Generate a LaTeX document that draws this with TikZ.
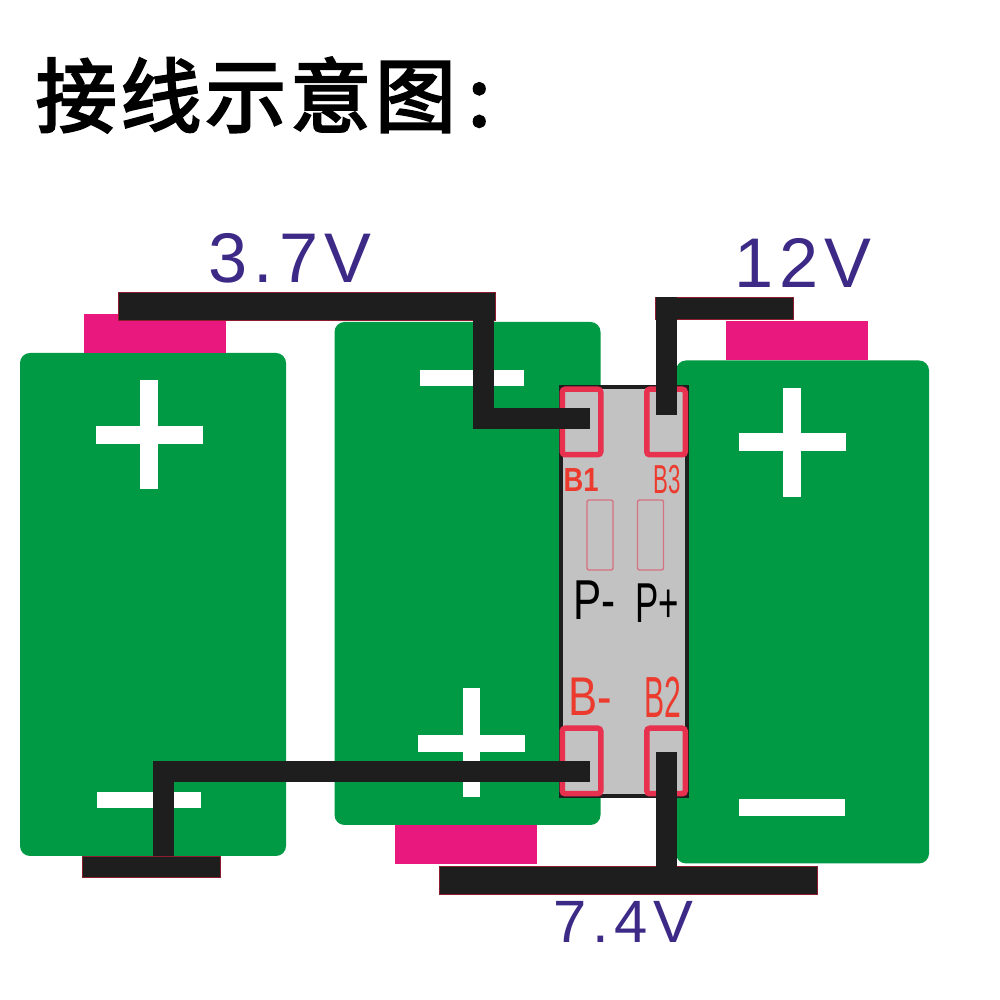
\documentclass[tikz,border=0pt]{standalone}
\usepackage{fontspec}
\setmainfont{Liberation Sans}
\newfontfamily\cjk[FakeBold=3,LetterSpace=5]{Noto Sans CJK SC}
\usetikzlibrary{positioning}

\definecolor{cellgreen}{HTML}{009A44}
\definecolor{cappink}{HTML}{E8187F}
\definecolor{boardgrey}{HTML}{C2C2C2}
\definecolor{padred}{HTML}{E8304F}
\definecolor{labelred}{HTML}{EC3B2E}
\definecolor{voltblue}{HTML}{3C2A86}
\definecolor{wireblack}{HTML}{1E1E1E}

\tikzset{
  cell/.style={shape=rectangle, rounded corners=0.1cm, fill=cellgreen, minimum width=2.66cm, minimum height=5.03cm, inner sep=0pt},
  capend/.style={shape=rectangle, fill=cappink, minimum width=1.42cm, minimum height=0.39cm, inner sep=0pt},
  bus/.style={shape=rectangle, fill=wireblack, draw=padred!60!black, line width=0.2pt, inner sep=0pt},
  pad/.style={shape=rectangle, rounded corners=0.03cm, draw=padred, line width=0.055cm, minimum width=0.385cm, minimum height=0.655cm, inner sep=0pt},
  slot/.style={shape=rectangle, rounded corners=0.02cm, draw=padred!55!boardgrey, line width=0.4pt, minimum width=0.26cm, minimum height=0.7cm, inner sep=0pt},
  wire/.style={draw=wireblack, line width=0.21cm, line join=miter},
  signh/.style={shape=rectangle, fill=white, minimum width=1.07cm, minimum height=0.175cm, inner sep=0pt},
  signv/.style={shape=rectangle, fill=white, minimum width=0.175cm, minimum height=1.09cm, inner sep=0pt},
  volt/.style={text=voltblue, inner sep=0pt, font=\fontsize{20}{24}\selectfont\addfontfeature{LetterSpace=9}},
  padlabel/.style={text=labelred, inner sep=0pt, transform shape, font=\fontsize{13}{15}\selectfont},
  pinlabel/.style={text=black, inner sep=0pt, transform shape, font=\fontsize{14}{16}\selectfont}
}

\begin{document}
\begin{tikzpicture}
  \useasboundingbox[fill=white] (0,0) rectangle (10,10);

  % title
  \node[anchor=west, inner sep=0pt] (title) at (0.35,9.05) {\fontsize{23}{28}\selectfont\cjk 接线示意图\hspace{0.12cm}:};

  % cells
  \node[cell] (cellleft) at (1.53,3.955) {};
  \node[cell] (cellmid) at (4.675,4.265) {};
  \node[cell, minimum width=2.53cm] (cellright) at (8.025,3.88) {};
  \node[capend] (capleft) at (1.545,6.665) {};
  \node[capend] (capmid) at (4.66,1.555) {};
  \node[capend] (capright) at (7.97,6.595) {};

  % signs
  \node[signh] (plusleftb) at (1.49,5.65) {};
  \node[signv] (plusleftc) at (1.49,5.65) {};
  \node[signh, minimum width=1.04cm, minimum height=0.16cm] (minusleft) at (1.49,2) {};
  \node[signh, minimum width=1.04cm, minimum height=0.16cm] (minusmid) at (4.72,6.22) {};
  \node[signh] (plusmidb) at (4.715,2.565) {};
  \node[signv] (plusmidc) at (4.715,2.575) {};
  \node[signh] (plusrightb) at (7.92,5.58) {};
  \node[signv] (plusrightc) at (7.92,5.575) {};
  \node[signh, minimum width=1.06cm] (minusright) at (7.92,1.925) {};

  % board
  \node[shape=rectangle, draw=wireblack, fill=boardgrey, line width=0.04cm, minimum width=1.26cm, minimum height=4.09cm, inner sep=0pt] (board) at (6.24,4.085) {};
  \node[pad] (padbone) at (5.815,5.78) {};
  \node[pad] (padbthree) at (6.66,5.78) {};
  \node[pad] (padbminus) at (5.815,2.39) {};
  \node[pad] (padbtwo) at (6.66,2.39) {};
  \node[slot] (slotminus) at (6.0,4.65) {};
  \node[slot] (slotplus) at (6.505,4.65) {};

  % board texts
  \node[padlabel, xscale=0.82, font=\fontsize{9.5}{12}\selectfont\bfseries] (lblbone) at (5.81,5.2) {B1};
  \node[padlabel, xscale=0.55, font=\fontsize{11.5}{13}\selectfont] (lblbthree) at (6.67,5.2) {B3};
  \node[padlabel, xscale=0.8, font=\fontsize{15.5}{18}\selectfont] (lblbminus) at (5.9,3.03) {B-};
  \node[padlabel, xscale=0.52, font=\fontsize{16.5}{18}\selectfont] (lblbtwo) at (6.63,3.03) {B2};
  \node[pinlabel, xscale=0.75, font=\fontsize{16}{18}\selectfont] (lblpminus) at (5.945,4.0) {P-};
  \node[pinlabel, xscale=0.62, font=\fontsize{16}{18}\selectfont] (lblpplus) at (6.575,3.97) {P+};

  % bus bars
  \node[bus, minimum width=3.77cm, minimum height=0.28cm] (busthree) at (3.065,6.94) {};
  \node[bus, minimum width=1.38cm, minimum height=0.22cm] (bustwelve) at (7.24,6.92) {};
  \node[bus, minimum width=3.78cm, minimum height=0.28cm] (busseven) at (6.28,1.2) {};
  \node[bus, minimum width=1.38cm, minimum height=0.21cm] (busneg) at (1.51,1.335) {};

  % wires
  \coordinate (tapbone) at (5.9,5.815);
  \coordinate (tapbthree) at (6.66,5.85);
  \coordinate (tapbminus) at (5.9,2.285);
  \coordinate (tapbtwo) at (6.665,2.48);
  \coordinate (tapneg) at (1.63,1.44);
  \coordinate (tapthree) at (4.835,6.94);
  \coordinate (taptwelve) at (6.66,7.03);
  \coordinate (tapseven) at (6.665,1.2);
  \draw[wire] (tapthree) |- (tapbone);
  \draw[wire] (tapbthree) -- (taptwelve);
  \draw[wire] (tapbminus) -| (tapneg);
  \draw[wire] (tapbtwo) -- (tapseven);

  % voltages
  \node[volt] (voltthree) at (2.9,7.42) {3.7V};
  \node[volt] (volttwelve) at (8.03,7.37) {12V};
  \node[volt, font=\fontsize{17}{20}\selectfont\addfontfeature{LetterSpace=9}] (voltseven) at (6.235,0.78) {7.4V};
\end{tikzpicture}
\end{document}
